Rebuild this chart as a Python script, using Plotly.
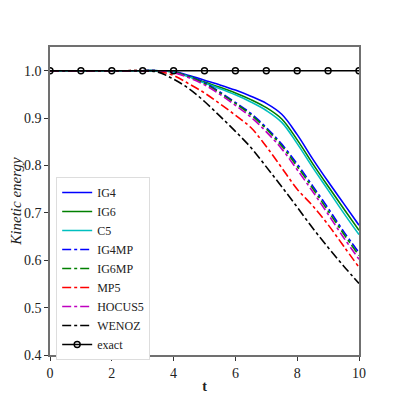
import plotly.graph_objects as go

# time samples
t = [0, 0.5, 1, 1.5, 2, 2.5, 3, 3.5, 4, 4.5, 5, 5.5, 6, 6.5, 7, 7.5, 8, 8.5, 9, 9.5, 10]

ig4 = [1.0, 1.0, 1.0, 1.0, 1.0, 1.0, 1.0, 1.0, 0.998, 0.990, 0.980, 0.970, 0.959, 0.946,
       0.931, 0.908, 0.865, 0.814, 0.766, 0.720, 0.674]
ig6 = [1.0, 1.0, 1.0, 1.0, 1.0, 1.0, 1.0, 1.0, 0.997, 0.988, 0.976, 0.965, 0.953, 0.939,
       0.922, 0.898, 0.854, 0.804, 0.756, 0.709, 0.663]
c5 = [1.0, 1.0, 1.0, 1.0, 1.0, 1.0, 1.0, 1.0, 0.997, 0.987, 0.974, 0.962, 0.949, 0.934,
      0.916, 0.891, 0.846, 0.796, 0.748, 0.700, 0.654]
ig4mp = [1.0, 1.0, 1.0, 1.0, 1.0, 1.0, 1.0, 1.0, 0.997, 0.988, 0.975, 0.955, 0.933, 0.910,
         0.880, 0.845, 0.803, 0.757, 0.710, 0.661, 0.616]
ig6mp = [1.0, 1.0, 1.0, 1.0, 1.0, 1.0, 1.0, 1.0, 0.997, 0.987, 0.973, 0.953, 0.931, 0.907,
         0.877, 0.841, 0.798, 0.752, 0.704, 0.656, 0.610]
mp5 = [1.0, 1.0, 1.0, 1.0, 1.0, 1.0, 1.0, 0.998, 0.990, 0.972, 0.953, 0.930, 0.906, 0.880,
       0.840, 0.795, 0.750, 0.715, 0.675, 0.630, 0.585]
hocus5 = [1.0, 1.0, 1.0, 1.0, 1.0, 1.0, 1.0, 1.0, 0.996, 0.985, 0.970, 0.950, 0.927, 0.902,
          0.871, 0.835, 0.791, 0.745, 0.697, 0.648, 0.602]
wenoz = [1.0, 1.0, 1.0, 1.0, 1.0, 1.0, 1.0, 0.997, 0.982, 0.962, 0.935, 0.904, 0.872, 0.838,
         0.797, 0.755, 0.712, 0.668, 0.627, 0.588, 0.551]

t_exact = [0, 1, 2, 3, 4, 5, 6, 7, 8, 9, 10]
exact = [1.0, 1.0, 1.0, 1.0, 1.0, 1.0, 1.0, 1.0, 1.0, 1.0, 1.0]

series = [
    ("IG4", ig4, "#0000ff", "solid"),
    ("IG6", ig6, "#008000", "solid"),
    ("C5", c5, "#00bfbf", "solid"),
    ("IG4MP", ig4mp, "#0000ff", "dashdot"),
    ("IG6MP", ig6mp, "#008000", "dashdot"),
    ("MP5", mp5, "#ff0000", "dashdot"),
    ("HOCUS5", hocus5, "#bf00bf", "dashdot"),
    ("WENOZ", wenoz, "#000000", "dashdot"),
]

fig = go.Figure()
for name, y, col, dash in series:
    fig.add_trace(go.Scatter(x=t, y=y, mode='lines', name=name, line_shape='spline',
                             line=dict(color=col, width=1.6, dash=dash)))

fig.add_trace(go.Scatter(x=t_exact, y=exact, mode='lines+markers', name='exact',
                         line=dict(color='black', width=1.6),
                         marker=dict(symbol='circle-open', size=6, color='black',
                                     line=dict(width=1.4))))

font = "Liberation Serif"
axis = dict(showline=True, mirror=True, linecolor='#707070', linewidth=1.5,
            ticks='outside', ticklen=4, tickcolor='#333', showgrid=False, zeroline=False,
            automargin=False, tickfont=dict(family=font, size=14, color='#222'))

# page body adds an 8px offset, margins compensate for it
fig.update_layout(
    width=399, height=399,
    paper_bgcolor='white', plot_bgcolor='white',
    margin=dict(l=42, r=48, t=39, b=52),
    font=dict(family=font, size=13, color='#222'),
    xaxis=dict(axis, range=[0, 10], tickvals=[0, 2, 4, 6, 8, 10],
               title=dict(text="<b>t</b>", standoff=2, font=dict(size=14, family=font))),
    yaxis=dict(axis, range=[0.4, 1.05], tickvals=[0.4, 0.5, 0.6, 0.7, 0.8, 0.9, 1.0],
               tickformat='.1f',
               title=dict(text="<i>Kinetic energy</i>", standoff=4, font=dict(size=15, family=font))),
    legend=dict(x=0.02, y=0.578, xanchor='left', yanchor='top',
                bgcolor='white', bordercolor='#dddddd', borderwidth=1, itemwidth=30,
                font=dict(family=font, size=12), tracegroupgap=0),
    showlegend=True,
)

fig.write_html("out.html")
